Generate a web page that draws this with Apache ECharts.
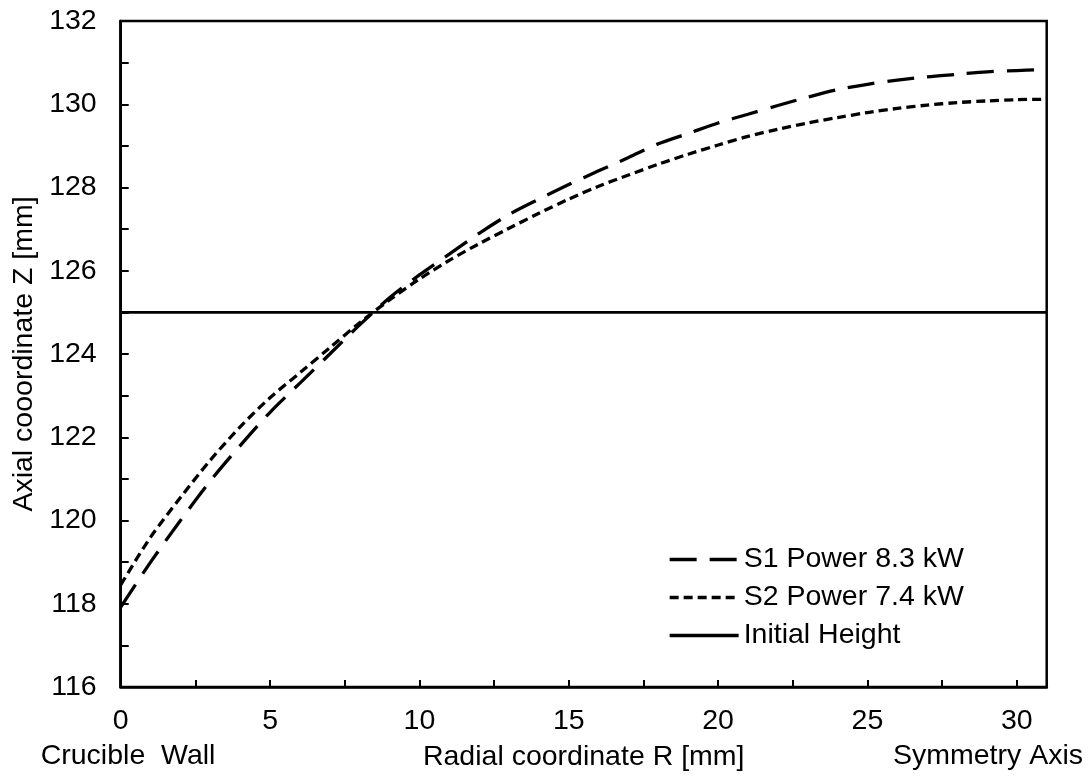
<!DOCTYPE html>
<html>
<head>
<meta charset="utf-8">
<script src="https://cdn.jsdelivr.net/npm/echarts@6/dist/echarts.min.js"></script>
<style>
html,body{margin:0;padding:0;background:#fff;}
#chart{width:1092px;height:780px;}
</style>
</head>
<body>
<div id="chart"></div>
<script>
// Radial coordinate R [mm]
const rS1 = [0,1,2,3,4,5,6,7,8,9,10,11,12,13,14,15,16,17,18,19,20,21,22,23,24,25,26,27,28,29,30,30.75];
const zS1 = [117.92,119.0,120.0,120.95,121.8,122.6,123.3,124.0,124.7,125.35,125.9,126.4,126.9,127.35,127.72,128.07,128.4,128.72,129.05,129.3,129.55,129.76,129.97,130.17,130.35,130.48,130.58,130.66,130.72,130.78,130.81,130.83];
const rS2 = [0,1,2,3,4,5,6,7,8,9,10,11,12,13,14,15,16,17,18,19,20,21,22,23,24,25,26,27,28,29,30,31];
const zS2 = [118.45,119.6,120.55,121.45,122.25,122.95,123.55,124.15,124.75,125.3,125.8,126.25,126.65,127.02,127.38,127.72,128.03,128.3,128.56,128.8,129.02,129.23,129.4,129.55,129.68,129.8,129.9,129.98,130.04,130.08,130.11,130.12];
const rInit = [0,31];
const zInit = [125,125];
const seriesNames = ['S1 Power 8.3 kW','S2 Power 7.4 kW','Initial Height'];
const xTitle = 'Radial coordinate R [mm]';
const yTitle = 'Axial cooordinate Z [mm]';
const leftNote = 'Crucible  Wall';
const rightNote = 'Symmetry Axis';

const pair = (xs, ys) => xs.map((x, i) => [x, ys[i]]);
const FONT = 'Liberation Sans, Arial, sans-serif';

const chart = echarts.init(document.getElementById('chart'), null, {renderer:'canvas'});
chart.setOption({
  animation:false,
  backgroundColor:'#fff',
  textStyle:{fontFamily:FONT},
  grid:{left:120.7, right:45.3, top:21, bottom:93, show:true, borderColor:'#000', borderWidth:2.5, backgroundColor:'transparent'},
  xAxis:{
    type:'value', min:0, max:31, interval:2.5,
    name:xTitle, nameLocation:'middle', nameGap:56,
    nameTextStyle:{fontSize:28.5, color:'#000', fontFamily:FONT},
    axisLine:{show:true, lineStyle:{color:'#000', width:2.7}},
    axisTick:{show:true, inside:true, length:7, lineStyle:{color:'#000', width:2}},
    axisLabel:{fontSize:28.5, color:'#000', margin:20, fontFamily:FONT,
      formatter:v => (Math.abs(v % 5) < 1e-9 ? String(v) : '')},
    splitLine:{show:false}
  },
  yAxis:{
    type:'value', min:116, max:132, interval:1,
    name:yTitle, nameLocation:'middle', nameGap:80,
    nameTextStyle:{fontSize:28.5, color:'#000', fontFamily:FONT},
    axisLine:{show:true, lineStyle:{color:'#000', width:2.7}},
    axisTick:{show:true, inside:true, length:8, lineStyle:{color:'#000', width:2}},
    axisLabel:{fontSize:28.5, color:'#000', margin:24, fontFamily:FONT,
      formatter:v => (v % 2 === 0 ? String(v) : '')},
    splitLine:{show:false}
  },
  legend:{
    show:true,
    orient:'vertical', left:668, top:545, padding:0,
    itemWidth:69, itemHeight:14, itemGap:9,
    textStyle:{fontSize:28.5, color:'#000', fontFamily:FONT},
    itemStyle:{color:'rgba(0,0,0,0)', borderColor:'rgba(0,0,0,0)', borderWidth:0, opacity:0},
    lineStyle:{width:3.3, type:'inherit', color:'#000'},
    data:seriesNames
  },
  series:[
    {name:seriesNames[0], type:'line', data:pair(rS1,zS1), smooth:0.3, symbol:'none',
     lineStyle:{color:'#000', width:3.3, type:[27,13]}, itemStyle:{color:'#000'}},
    {name:seriesNames[1], type:'line', data:pair(rS2,zS2), smooth:0.3, symbol:'none',
     lineStyle:{color:'#000', width:3.3, type:[9,5]}, itemStyle:{color:'#000'}},
    {name:seriesNames[2], type:'line', data:pair(rInit,zInit), symbol:'none',
     lineStyle:{color:'#000', width:2.8, type:'solid'}, itemStyle:{color:'#000'}}
  ],
  graphic:[
    {type:'text', left:40.7, top:742, style:{text:leftNote, fontSize:28.5, fill:'#000', fontFamily:FONT}},
    {type:'text', right:9, top:742, style:{text:rightNote, fontSize:28.5, fill:'#000', fontFamily:FONT}}
  ]
});
</script>
</body>
</html>
